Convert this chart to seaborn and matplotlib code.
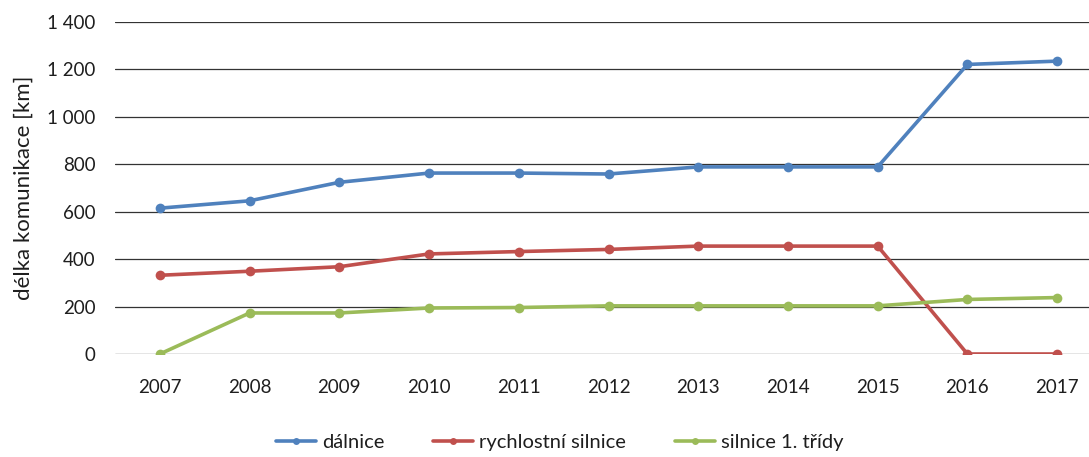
import matplotlib
matplotlib.use("Agg")
import matplotlib.pyplot as plt
import matplotlib.ticker as mticker
import seaborn as sns
import pandas as pd

years = [2007, 2008, 2009, 2010, 2011, 2012, 2013, 2014, 2015, 2016, 2017]
dalnice = [615, 646, 724, 763, 763, 759, 789, 789, 789, 1221, 1235]
rychlostni = [332, 349, 368, 422, 432, 441, 455, 455, 455, 0, 0]
silnice1 = [0, 173, 173, 194, 196, 203, 203, 203, 203, 230, 238]
series_names = ["dálnice", "rychlostní silnice", "silnice 1. třídy"]
colors = ["#4F81BD", "#C0504D", "#9BBB59"]
y_ticks = [0, 200, 400, 600, 800, 1000, 1200, 1400]

df = pd.concat([
    pd.DataFrame({"rok": years, "km": vals, "typ": name})
    for name, vals in zip(series_names, [dalnice, rychlostni, silnice1])
], ignore_index=True)

sns.set_theme(style="white")
plt.rcParams["font.family"] = ["Lato", "DejaVu Sans"]

fig = plt.figure(figsize=(10.89, 4.57), dpi=100)
ax = fig.add_axes([115 / 1089, 103 / 457, 987 / 1089, 332 / 457])

sns.lineplot(data=df, x="rok", y="km", hue="typ", hue_order=series_names,
             palette=colors, marker="o", markersize=7, markeredgewidth=0,
             linewidth=2.6, ax=ax, legend=False, zorder=3)

ax.set_xlim(years[0] - 0.5, years[-1] + 0.5)
ax.set_ylim(0, 1400)
ax.set_yticks(y_ticks)
ax.set_xticks(years)
ax.yaxis.set_major_formatter(mticker.FuncFormatter(
    lambda v, p: f"{int(v):,}".replace(",", " ")))
ax.grid(axis="y", color="#333333", linewidth=0.9, zorder=0)
ax.grid(axis="x", visible=False)
for s in ax.spines.values():
    s.set_visible(False)
ax.tick_params(axis="y", length=0, pad=14, labelsize=13.5, labelcolor="#1e1e1e")
ax.tick_params(axis="x", length=0, pad=18, labelsize=13.5, labelcolor="#1e1e1e")
ax.set_xlabel("")
ax.set_ylabel("délka komunikace [km]", fontsize=16, color="#1e1e1e", labelpad=10)

handles = [plt.Line2D([], [], color=c, linewidth=2.6, marker="o", markersize=5,
                      markeredgewidth=0) for c in colors]
fig.legend(handles, series_names, loc="center", bbox_to_anchor=(0.514, 0.031),
           ncol=3, frameon=False, fontsize=14.5, handlelength=2.0,
           handletextpad=0.3, columnspacing=2.4, labelcolor="#1e1e1e")

fig.savefig("out.png", dpi=100)
